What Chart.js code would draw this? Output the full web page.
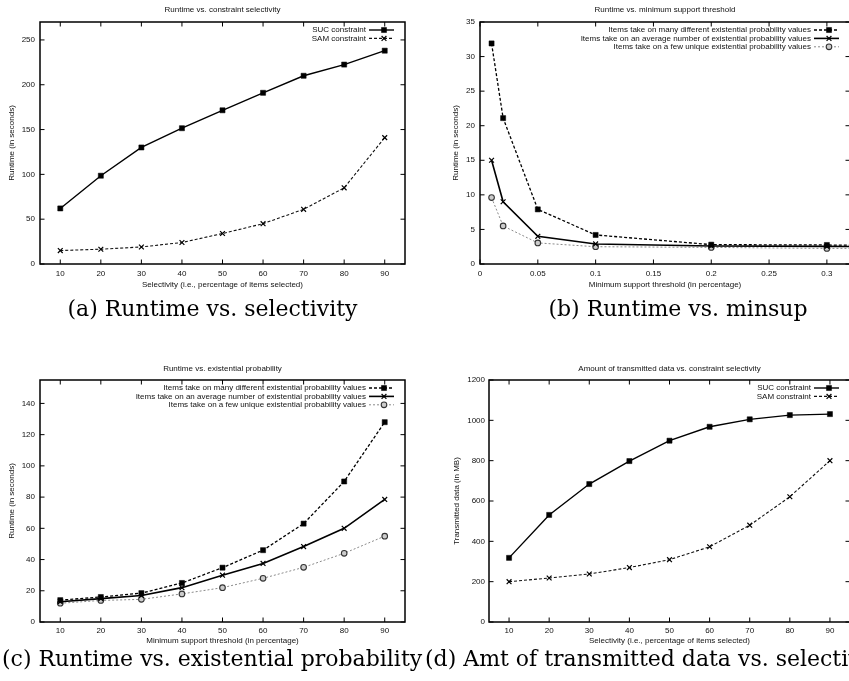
<!DOCTYPE html>
<html>
<head>
<meta charset="utf-8">
<script src="https://cdn.jsdelivr.net/npm/chart.js@4.4.1/dist/chart.umd.min.js"></script>
<style>
html, body { margin:0; padding:0; background:#fff; overflow:hidden; width:849px; height:681px; }
canvas { position:absolute; }
.cap { position:absolute; font-family:"DejaVu Serif", serif; font-size:22px; line-height:22px; color:#000; white-space:nowrap; }
</style>
</head>
<body>
<canvas id="ca" width="425" height="300" style="left:0;top:0"></canvas>
<canvas id="cb" width="415" height="300" style="left:445px;top:0"></canvas>
<canvas id="cc" width="425" height="300" style="left:0;top:350px"></canvas>
<canvas id="cd" width="415" height="300" style="left:445px;top:350px"></canvas>
<div class="cap" style="left:0;top:298px;width:425px;text-align:center">(a) Runtime vs. selectivity</div>
<div class="cap" style="left:425px;top:298px;width:506px;text-align:center">(b) Runtime vs. minsup</div>
<div class="cap" style="left:2px;top:648px">(c) Runtime vs. existential probability</div>
<div class="cap" style="left:425px;top:648px">(d) Amt of transmitted data vs. selectivity</div>
<script>
// data
var selX = [10, 20, 30, 40, 50, 60, 70, 80, 90];
var runSUC = [62, 98.5, 130, 151.5, 171.5, 191, 210, 222.5, 238];
var runSAM = [15, 16.5, 19, 24, 34, 45, 61, 85, 141];

var supX = [0.01, 0.02, 0.05, 0.1, 0.2, 0.3, 0.4];
var supMany = [31.9, 21.1, 7.9, 4.2, 2.8, 2.75, 2.6];
var supAvg = [15, 9, 4, 2.9, 2.6, 2.55, 2.5];
var supFew = [9.6, 5.5, 3.05, 2.5, 2.4, 2.25, 2.3];

var probMany = [14, 16, 18.5, 25, 34.8, 46, 63, 90, 128];
var probAvg = [13, 15, 17, 22, 30, 37.5, 48.3, 60, 78.5];
var probFew = [12, 13.8, 14.5, 18, 22, 28, 35, 44, 55];

var txSUC = [318, 531, 684, 798, 899, 968, 1005, 1026, 1031];
var txSAM = [200, 218, 238, 270, 309, 373, 480, 621, 800];

var aYTicks = [0, 50, 100, 150, 200, 250];
var bXTicks = [0, 0.05, 0.1, 0.15, 0.2, 0.25, 0.3];
var bYTicks = [0, 5, 10, 15, 20, 25, 30, 35];
var cYTicks = [0, 20, 40, 60, 80, 100, 120, 140];
var dYTicks = [0, 200, 400, 600, 800, 1000, 1200];

Chart.defaults.font.family = '"Liberation Sans", Arial, sans-serif';
Chart.defaults.font.size = 8;
Chart.defaults.color = '#111';

// line styles (gnuplot look)
var styles = {
	suc: {borderColor:'#000', borderWidth:1.4, borderDash:[], pointStyle:'rect', pointRadius:3.6, pointBackgroundColor:'#000', pointBorderColor:'#000', pointBorderWidth:0.5},
	sam: {borderColor:'#111', borderWidth:1.1, borderDash:[3, 2], pointStyle:'crossRot', pointRadius:3.4, pointBackgroundColor:'#000', pointBorderColor:'#000', pointBorderWidth:1.2},
	many: {borderColor:'#000', borderWidth:1.3, borderDash:[3, 2], pointStyle:'rect', pointRadius:3.6, pointBackgroundColor:'#000', pointBorderColor:'#000', pointBorderWidth:0.5},
	avg: {borderColor:'#000', borderWidth:1.6, borderDash:[], pointStyle:'crossRot', pointRadius:3.4, pointBackgroundColor:'#000', pointBorderColor:'#000', pointBorderWidth:1.2},
	few: {borderColor:'#8a8a8a', borderWidth:1, borderDash:[2, 2], pointStyle:'circle', pointRadius:2.8, pointBackgroundColor:'#ccc', pointBorderColor:'#333', pointBorderWidth:1.1}
};

function series(label, xs, ys, st) {
	var ds = {label: label, data: xs.map(function(x, i) { return {x: x, y: ys[i]}; }), tension: 0, fill: false};
	for (var k in st) ds[k] = st[k];
	return ds;
}

// frame, inward ticks and key, like gnuplot
var gnu = {
	id: 'gnu',
	afterDraw: function(chart) {
		var ctx = chart.ctx, a = chart.chartArea;
		var xs = chart.scales.x, ys = chart.scales.y;
		ctx.save();
		ctx.setLineDash([]);
		ctx.strokeStyle = '#000';
		ctx.lineWidth = 1;
		ctx.beginPath();
		xs.ticks.forEach(function(t) {
			var px = xs.getPixelForValue(t.value);
			ctx.moveTo(px, a.bottom); ctx.lineTo(px, a.bottom - 4.5);
			ctx.moveTo(px, a.top); ctx.lineTo(px, a.top + 4.5);
		});
		ys.ticks.forEach(function(t) {
			var py = ys.getPixelForValue(t.value);
			ctx.moveTo(a.left, py); ctx.lineTo(a.left + 4.5, py);
			ctx.moveTo(a.right, py); ctx.lineTo(a.right - 4.5, py);
		});
		ctx.stroke();
		ctx.lineWidth = 1.5;
		ctx.strokeRect(a.left, a.top, a.width, a.height);

		ctx.font = '8px "Liberation Sans", Arial, sans-serif';
		ctx.textAlign = 'right';
		ctx.textBaseline = 'middle';
		chart.data.datasets.forEach(function(ds, i) {
			var y = a.top + 8 + i * 8.4;
			ctx.fillStyle = '#111';
			ctx.fillText(ds.label, a.right - 39, y);
			ctx.save();
			ctx.strokeStyle = ds.borderColor;
			ctx.lineWidth = ds.borderWidth;
			ctx.setLineDash(ds.borderDash);
			ctx.beginPath();
			ctx.moveTo(a.right - 36, y); ctx.lineTo(a.right - 11, y);
			ctx.stroke();
			ctx.restore();
			ctx.fillStyle = ds.pointBackgroundColor;
			ctx.strokeStyle = ds.pointBorderColor;
			ctx.lineWidth = ds.pointBorderWidth;
			Chart.helpers.drawPoint(ctx, {pointStyle: ds.pointStyle, radius: ds.pointRadius, borderWidth: ds.pointBorderWidth, rotation: 0}, a.right - 21, y);
		});
		ctx.restore();
	}
};

function makeChart(id, o) {
	return new Chart(document.getElementById(id), {
		type: 'line',
		data: {datasets: o.datasets},
		plugins: [gnu],
		options: {
			responsive: false,
			animation: false,
			layout: {padding: {left: 0, right: o.padR, top: 0, bottom: 0}},
			plugins: {
				legend: {display: false},
				tooltip: {enabled: false},
				title: {display: true, text: o.title, fullSize: false, color: '#111',
					font: {size: 8, weight: 'normal'}, padding: {top: o.tPad[0], bottom: o.tPad[1]}}
			},
			scales: {
				x: {
					type: 'linear', min: o.xMin, max: o.xMax,
					grid: {display: false, drawTicks: false}, border: {display: false},
					afterBuildTicks: function(s) { s.ticks = o.xTicks.map(function(v) { return {value: v}; }); },
					afterFit: function(s) { s.height = o.xH; },
					ticks: {padding: o.xLabPad, maxRotation: 0, callback: function(v) { return String(v); }},
					title: {display: true, text: o.xTitle, font: {size: 8}, padding: {top: 0, bottom: o.xTitlePad}}
				},
				y: {
					min: 0, max: o.yMax,
					grid: {display: false, drawTicks: false}, border: {display: false},
					afterBuildTicks: function(s) { s.ticks = o.yTicks.map(function(v) { return {value: v}; }); },
					afterFit: function(s) { s.width = o.yW; },
					ticks: {padding: o.yLabPad, callback: function(v) { return String(v); }},
					title: {display: true, text: o.yTitle, font: {size: 8}, padding: {top: o.yTitlePad, bottom: 0}}
				}
			}
		}
	});
}

// (a)
makeChart('ca', {
	title: 'Runtime vs. constraint selectivity',
	datasets: [series('SUC constraint', selX, runSUC, styles.suc), series('SAM constraint', selX, runSAM, styles.sam)],
	xMin: 5, xMax: 95, xTicks: selX, yMax: 270, yTicks: aYTicks,
	xTitle: 'Selectivity (i.e., percentage of items selected)', yTitle: 'Runtime (in seconds)',
	padR: 20, tPad: [5.2, 7.2], xH: 36, xLabPad: 5, xTitlePad: 10.2, yW: 40, yLabPad: 5, yTitlePad: 7.2
});
// (b)
makeChart('cb', {
	title: 'Runtime vs. minimum support threshold',
	datasets: [
		series('Items take on many different existential probability values', supX, supMany, styles.many),
		series('Items take on an average number of existential probability values', supX, supAvg, styles.avg),
		series('Items take on a few unique existential probability values', supX, supFew, styles.few)
	],
	xMin: 0, xMax: 0.32, xTicks: bXTicks, yMax: 35, yTicks: bYTicks,
	xTitle: 'Minimum support threshold (in percentage)', yTitle: 'Runtime (in seconds)',
	padR: 10, tPad: [5.2, 7.2], xH: 36, xLabPad: 5, xTitlePad: 10.2, yW: 35, yLabPad: 5, yTitlePad: 5.9
});
// (c)
makeChart('cc', {
	title: 'Runtime vs. existential probability',
	datasets: [
		series('Items take on many different existential probability values', selX, probMany, styles.many),
		series('Items take on an average number of existential probability values', selX, probAvg, styles.avg),
		series('Items take on a few unique existential probability values', selX, probFew, styles.few)
	],
	xMin: 5, xMax: 95, xTicks: selX, yMax: 155, yTicks: cYTicks,
	xTitle: 'Minimum support threshold (in percentage)', yTitle: 'Runtime (in seconds)',
	padR: 20, tPad: [13.5, 6.9], xH: 28, xLabPad: 4, xTitlePad: 4.5, yW: 40, yLabPad: 5, yTitlePad: 6.9
});
// (d)
makeChart('cd', {
	title: 'Amount of transmitted data vs. constraint selectivity',
	datasets: [series('SUC constraint', selX, txSUC, styles.suc), series('SAM constraint', selX, txSAM, styles.sam)],
	xMin: 5, xMax: 95, xTicks: selX, yMax: 1200, yTicks: dYTicks,
	xTitle: 'Selectivity (i.e., percentage of items selected)', yTitle: 'Transmitted data (in MB)',
	padR: 10, tPad: [13.5, 6.9], xH: 28, xLabPad: 4, xTitlePad: 4.5, yW: 44, yLabPad: 4, yTitlePad: 6.9
});
</script>
</body>
</html>
